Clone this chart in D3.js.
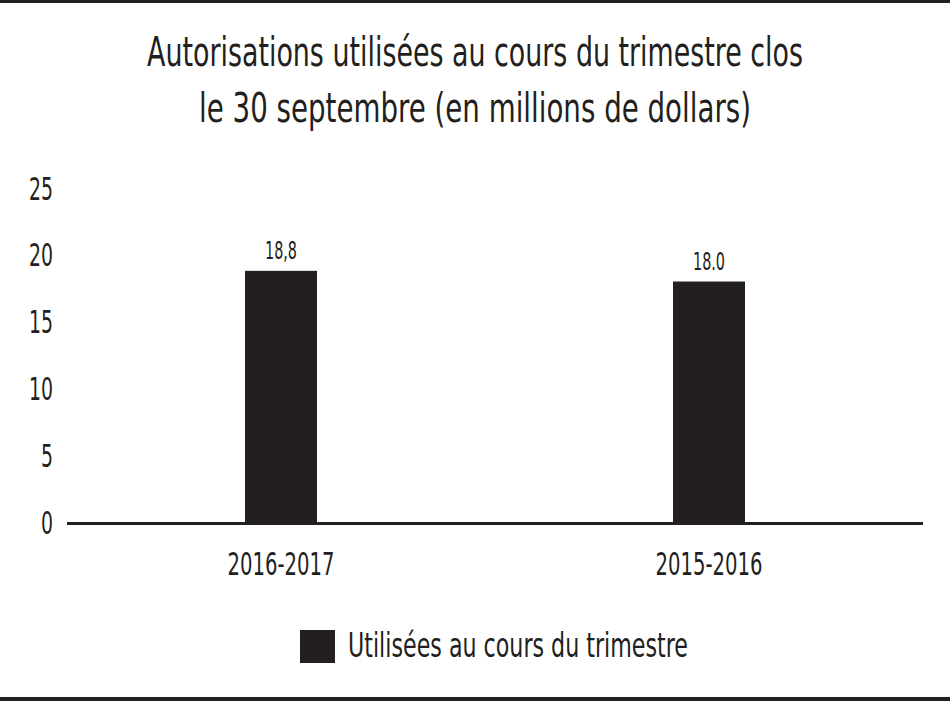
<!DOCTYPE html>
<html>
<head>
<meta charset="utf-8">
<script src="https://cdn.jsdelivr.net/npm/d3@7"></script>
<style>
  html, body { margin: 0; padding: 0; background: #fff; }
  text { font-family: "DejaVu Sans Condensed", "DejaVu Sans", sans-serif; font-stretch: condensed; fill: #231f20; }
</style>
</head>
<body>
<div class="chart"></div>
<script>
const width = 950;
const height = 705;

const titleLines = [
  "Autorisations utilisées au cours du trimestre clos",
  "le 30 septembre (en millions de dollars)",
];
const categories = ["2016-2017", "2015-2016"];
const values = [18.8, 18.0];
const valueLabels = ["18,8", "18.0"];
const yTicks = [0, 5, 10, 15, 20, 25];
const legendLabel = "Utilisées au cours du trimestre";

const ink = "#231f20";
const titleWidths = [656, 552];

const svg = d3
  .select(".chart")
  .append("svg")
  .attr("width", width)
  .attr("height", height);

// squeeze text horizontally so the narrow lettering of the original fits
function squeeze(sel, k) {
  sel.each(function () {
    const w = this.getComputedTextLength();
    d3.select(this).attr("textLength", w * k).attr("lengthAdjust", "spacingAndGlyphs");
  });
}

// frame lines top and bottom
svg.append("rect").attr("x", 0).attr("y", 0).attr("width", width).attr("height", 3).attr("fill", ink);
svg.append("rect").attr("x", 0).attr("y", 697).attr("width", width).attr("height", 4).attr("fill", ink);

// title
svg
  .selectAll(".title")
  .data(titleLines)
  .enter()
  .append("text")
  .attr("class", "title")
  .attr("x", 475)
  .attr("y", (d, i) => 66 + i * 56)
  .attr("text-anchor", "middle")
  .style("font-size", "41px")
  .text((d) => d)
  .each(function (d, i) {
    d3.select(this).attr("textLength", titleWidths[i]).attr("lengthAdjust", "spacingAndGlyphs");
  });

const y = d3.scaleLinear().domain([0, 25]).range([522, 188]);
const x = d3.scalePoint().domain(categories).range([67, 923]).padding(0.5);
const barWidth = 72;

// y tick labels
const yLabels = svg
  .selectAll(".ytick")
  .data(yTicks)
  .enter()
  .append("text")
  .attr("class", "ytick")
  .attr("x", 53)
  .attr("y", (d) => y(d))
  .attr("dy", "0.36em")
  .attr("text-anchor", "end")
  .style("font-size", "32px")
  .text((d) => d);
squeeze(yLabels, 24 / yLabels.filter((d) => d === 25).node().getComputedTextLength());

// bars
svg
  .selectAll(".bar")
  .data(values)
  .enter()
  .append("rect")
  .attr("class", "bar")
  .attr("x", (d, i) => x(categories[i]) - barWidth / 2)
  .attr("y", (d) => y(d))
  .attr("width", barWidth)
  .attr("height", (d) => y(0) - y(d))
  .attr("fill", ink);

// value labels
const vLabels = svg
  .selectAll(".vlabel")
  .data(values)
  .enter()
  .append("text")
  .attr("class", "vlabel")
  .attr("x", (d, i) => x(categories[i]))
  .attr("y", (d) => y(d) - 12)
  .attr("text-anchor", "middle")
  .style("font-size", "24px")
  .text((d, i) => valueLabels[i]);
squeeze(vLabels, 32 / vLabels.node().getComputedTextLength());

// baseline
svg
  .append("line")
  .attr("x1", 67)
  .attr("x2", 923)
  .attr("y1", y(0) + 1.5)
  .attr("y2", y(0) + 1.5)
  .attr("stroke", ink)
  .attr("stroke-width", 3);

// category labels
const xLabels = svg
  .selectAll(".xlabel")
  .data(categories)
  .enter()
  .append("text")
  .attr("class", "xlabel")
  .attr("x", (d) => x(d))
  .attr("y", 575)
  .attr("text-anchor", "middle")
  .style("font-size", "32px")
  .text((d) => d);
squeeze(xLabels, 107 / xLabels.node().getComputedTextLength());

// legend
svg.append("rect").attr("x", 300).attr("y", 630).attr("width", 35).attr("height", 33).attr("fill", ink);
const legendText = svg
  .append("text")
  .attr("x", 348)
  .attr("y", 657)
  .style("font-size", "33px")
  .text(legendLabel);
squeeze(legendText, 340 / legendText.node().getComputedTextLength());
</script>
</body>
</html>
